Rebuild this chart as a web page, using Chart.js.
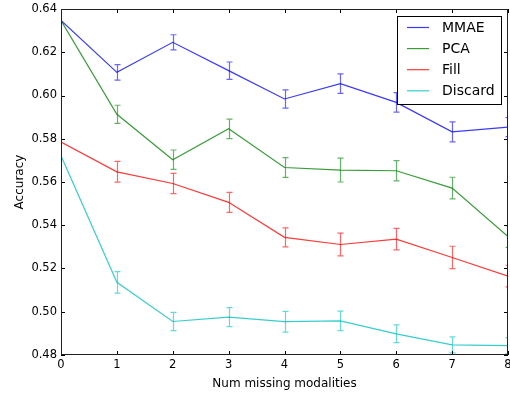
<!DOCTYPE html>
<html>
<head>
<meta charset="utf-8">
<script src="https://cdn.jsdelivr.net/npm/chart.js@4/dist/chart.umd.min.js"></script>
<style>
html,body{margin:0;padding:0;background:#fff;}
canvas{display:block;}
</style>
</head>
<body>
<canvas id="c" width="510" height="393"></canvas>
<script>
const xs = [0, 1, 2, 3, 4, 5, 6, 7, 8];
const seriesNames = ["MMAE", "PCA", "Fill", "Discard"];
const mmae = [0.6347, 0.6107, 0.6246, 0.6115, 0.5984, 0.6055, 0.5968, 0.5832, 0.5854];
const mmaeErr = [0, 0.0036, 0.0035, 0.0040, 0.0042, 0.0045, 0.0045, 0.0046, 0.0044];
const pca = [0.6347, 0.5913, 0.5703, 0.5846, 0.5667, 0.5655, 0.5652, 0.5572, 0.5348];
const pcaErr = [0, 0.0042, 0.0045, 0.0045, 0.0046, 0.0055, 0.0047, 0.0050, 0.0050];
const fill = [0.5785, 0.5647, 0.5593, 0.5506, 0.5344, 0.5311, 0.5336, 0.5251, 0.5165];
const fillErr = [0, 0.0048, 0.0047, 0.0046, 0.0044, 0.0053, 0.0050, 0.0052, 0.0050];
const discard = [0.5721, 0.5136, 0.4955, 0.4975, 0.4954, 0.4958, 0.4898, 0.4847, 0.4843];
const discardErr = [0, 0.0050, 0.0042, 0.0044, 0.0048, 0.0045, 0.0041, 0.0037, 0.0037];
const xTicks = [0, 1, 2, 3, 4, 5, 6, 7, 8];
const yTicks = [0.48, 0.50, 0.52, 0.54, 0.56, 0.58, 0.60, 0.62, 0.64];

const colors = ["rgba(0,0,255,0.78)", "rgba(0,128,0,0.78)", "rgba(255,0,0,0.78)", "rgba(0,191,191,0.78)"];
const errColors = ["rgba(0,0,255,0.6)", "rgba(0,128,0,0.6)", "rgba(255,0,0,0.6)", "rgba(0,191,191,0.6)"];
const values = [mmae, pca, fill, discard];
const errors = [mmaeErr, pcaErr, fillErr, discardErr];
const FONT = "'DejaVu Sans', sans-serif";

const datasets = seriesNames.map((name, i) => ({
  label: name,
  data: xs.map((x, j) => ({x: x, y: values[i][j]})),
  errs: errors[i],
  borderColor: colors[i],
  errColor: errColors[i],
  borderWidth: 1.2,
  pointRadius: 0,
  fill: false,
  tension: 0
}));

const decorPlugin = {
  id: 'decor',
  afterDatasetsDraw(chart) {
    const ctx = chart.ctx, a = chart.chartArea;
    const xs_ = chart.scales.x, ys_ = chart.scales.y;
    ctx.save();
    ctx.beginPath();
    ctx.rect(a.left, a.top, a.right - a.left, a.bottom - a.top);
    ctx.clip();
    chart.data.datasets.forEach(ds => {
      ctx.strokeStyle = ds.errColor;
      ctx.lineWidth = 1.2;
      ds.data.forEach((p, j) => {
        const e = ds.errs[j];
        if (!e) return;
        const px = Math.round(xs_.getPixelForValue(p.x)) + 0.5;
        const y1 = ys_.getPixelForValue(p.y - e);
        const y2 = ys_.getPixelForValue(p.y + e);
        ctx.beginPath();
        ctx.moveTo(px, y1); ctx.lineTo(px, y2);
        ctx.moveTo(px - 3, y1); ctx.lineTo(px + 3, y1);
        ctx.moveTo(px - 3, y2); ctx.lineTo(px + 3, y2);
        ctx.stroke();
      });
    });
    ctx.restore();
  },
  afterDraw(chart) {
    const ctx = chart.ctx, a = chart.chartArea;
    const xs_ = chart.scales.x, ys_ = chart.scales.y;
    ctx.save();
    ctx.strokeStyle = '#000';
    ctx.lineWidth = 1;
    ctx.beginPath();
    xTicks.forEach(v => {
      const px = Math.round(xs_.getPixelForValue(v)) + 0.5;
      ctx.moveTo(px, a.bottom); ctx.lineTo(px, a.bottom - 4);
      ctx.moveTo(px, a.top); ctx.lineTo(px, a.top + 4);
    });
    yTicks.forEach(v => {
      const py = Math.round(ys_.getPixelForValue(v)) + 0.5;
      ctx.moveTo(a.left, py); ctx.lineTo(a.left + 4, py);
      ctx.moveTo(a.right, py); ctx.lineTo(a.right - 4, py);
    });
    ctx.stroke();
    ctx.strokeStyle = '#222';
    ctx.strokeRect(Math.round(a.left) + 0.5, Math.round(a.top) + 0.5,
      Math.round(a.right - a.left) - 1, Math.round(a.bottom - a.top) - 1);
    const lx = 397.5, ly = 16.5, lw = 104, lh = 88;
    ctx.fillStyle = '#fff';
    ctx.fillRect(lx, ly, lw, lh);
    ctx.strokeStyle = '#000';
    ctx.strokeRect(lx, ly, lw, lh);
    ctx.font = "14px " + FONT;
    ctx.textBaseline = 'middle';
    chart.data.datasets.forEach((ds, i) => {
      const cy = 27.5 + i * 21.1;
      ctx.strokeStyle = ds.borderColor;
      ctx.lineWidth = 1.2;
      ctx.beginPath();
      ctx.moveTo(407, cy); ctx.lineTo(429, cy);
      ctx.stroke();
      ctx.fillStyle = '#000';
      ctx.fillText(ds.label, 442, cy + 1);
    });
    ctx.restore();
  }
};

new Chart(document.getElementById('c'), {
  type: 'line',
  data: { datasets: datasets },
  options: {
    responsive: false,
    animation: false,
    devicePixelRatio: 1,
    layout: { padding: { left: 0, right: 2, top: 9, bottom: 0 } },
    plugins: { legend: { display: false }, tooltip: { enabled: false } },
    scales: {
      x: {
        type: 'linear', min: 0, max: 8,
        afterFit(s) { s.height = 38; s.paddingRight = 0; s.paddingLeft = 0; },
        afterBuildTicks(s) { s.ticks = xTicks.map(v => ({value: v})); },
        grid: { display: false, drawTicks: false },
        border: { display: false },
        ticks: { color: '#000', padding: 3, font: { family: FONT, size: 11.5 }, maxRotation: 0,
          callback: v => String(v) },
        title: { display: true, text: 'Num missing modalities', color: '#000',
          font: { family: FONT, size: 12 }, padding: { top: 0, bottom: 2 } }
      },
      y: {
        type: 'linear', min: 0.48, max: 0.64,
        afterFit(s) { s.width = 61; s.paddingTop = 0; s.paddingBottom = 0; },
        afterBuildTicks(s) { s.ticks = yTicks.map(v => ({value: v})); },
        grid: { display: false, drawTicks: false },
        border: { display: false },
        ticks: { color: '#000', padding: 4, font: { family: FONT, size: 11.5 },
          callback: v => Number(v).toFixed(2) },
        title: { display: true, text: 'Accuracy', color: '#000',
          font: { family: FONT, size: 12 }, padding: { top: 13, bottom: 0 } }
      }
    }
  },
  plugins: [decorPlugin]
});
</script>
</body>
</html>
